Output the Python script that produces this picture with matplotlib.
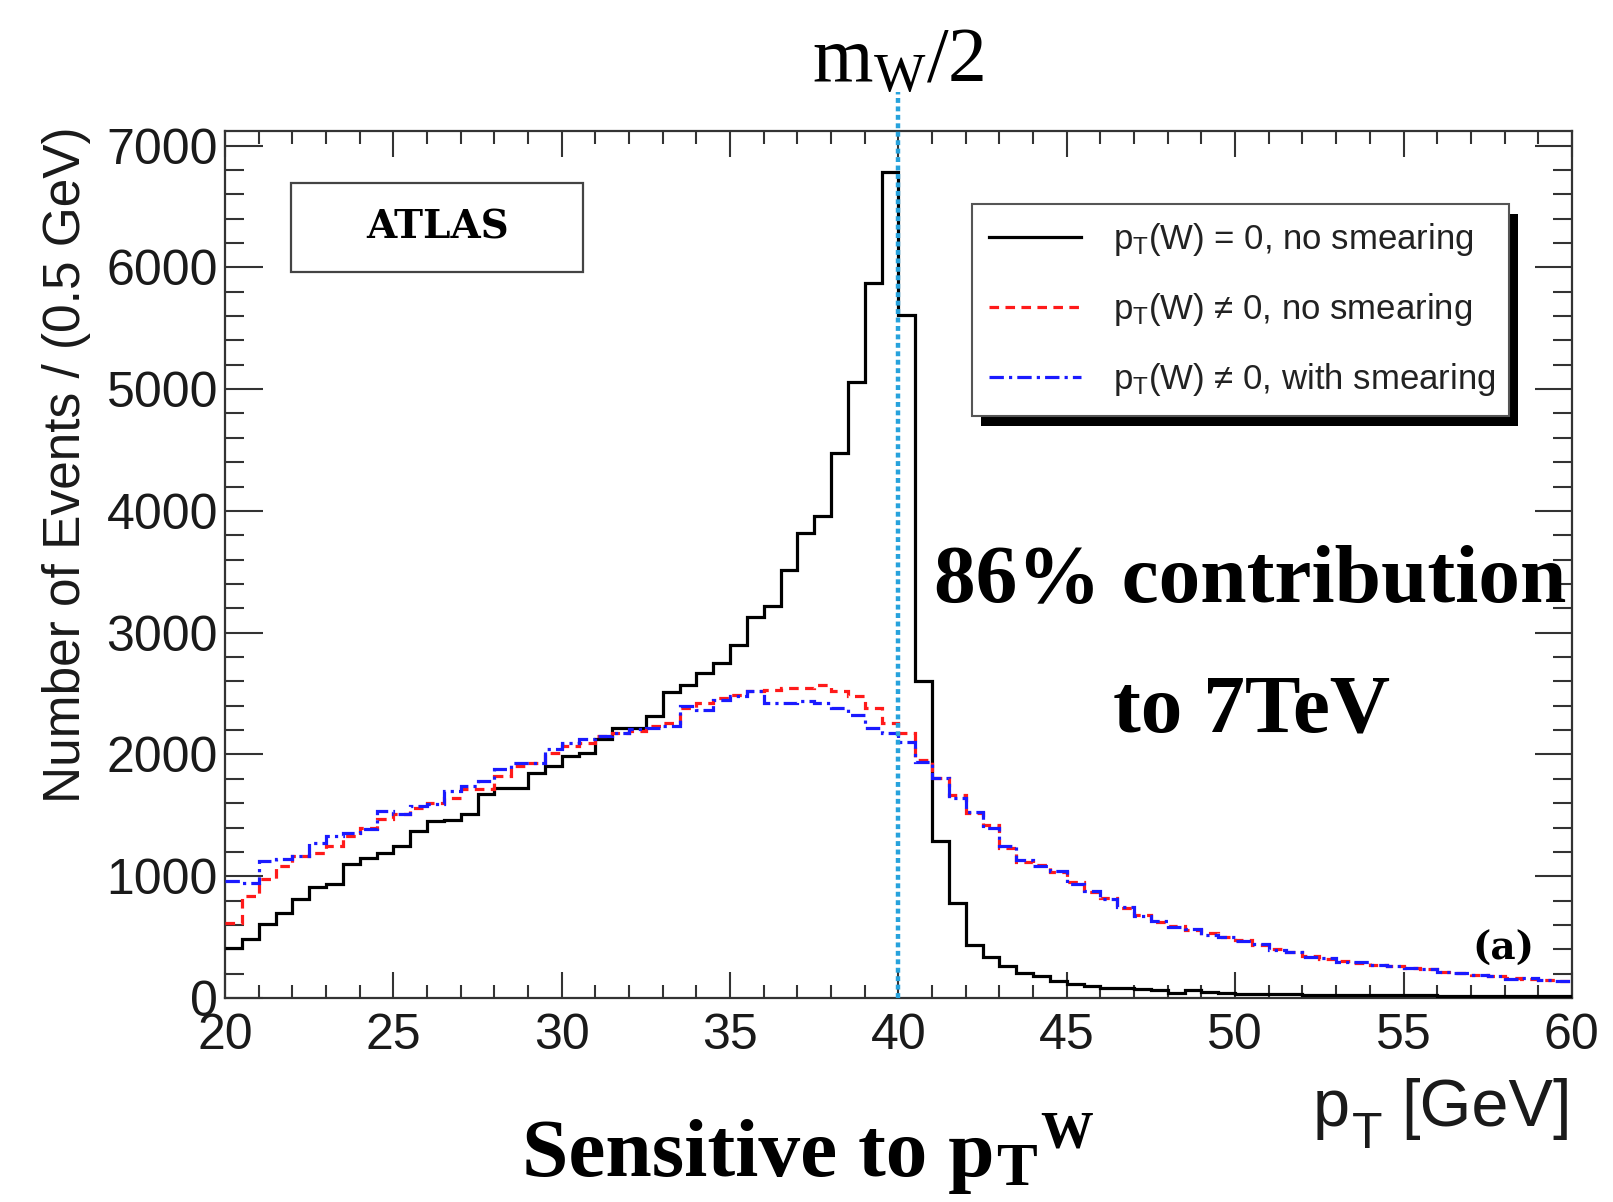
import numpy as np
import matplotlib
matplotlib.use("Agg")
import matplotlib.pyplot as plt
from matplotlib.lines import Line2D
from matplotlib.patches import Rectangle
from matplotlib.ticker import MultipleLocator

plt.rcParams['mathtext.fontset'] = 'custom'
plt.rcParams['mathtext.rm'] = 'Liberation Serif'
plt.rcParams['mathtext.bf'] = 'Liberation Serif:bold'
plt.rcParams['mathtext.sf'] = 'Liberation Sans'
plt.rcParams['mathtext.it'] = 'Liberation Serif:italic'
plt.rcParams['font.family'] = ['Liberation Sans', 'DejaVu Sans']

# binning: 0.5 GeV bins from 20 to 60 GeV
pt_lo, pt_hi, bin_w = 20.0, 60.0, 0.5

# pT(W) = 0, no smearing
h_nopt = [410, 484, 607, 702, 811, 913, 934, 1098, 1153, 1194,
          1249, 1372, 1454, 1460, 1508, 1672, 1727, 1727, 1850, 1904,
          1986, 2014, 2128, 2219, 2219, 2314, 2511, 2574, 2669, 2751,
          2896, 3128, 3221, 3516, 3817, 3954, 4478, 5060, 5870, 6780,
          5611, 2601, 1292, 779, 437, 333, 260, 205, 178, 137,
          115, 96, 82, 82, 76, 68, 41, 68, 46, 38,
          35, 33, 31, 30, 28, 27, 26, 25, 24, 23,
          22, 21, 20, 19, 18, 17, 16, 15, 14, 13]

# pT(W) != 0, no smearing
h_pt = [620, 839, 975, 1085, 1167, 1194, 1249, 1331, 1399, 1467,
        1508, 1563, 1604, 1645, 1713, 1713, 1822, 1904, 1932, 2014,
        2068, 2096, 2150, 2178, 2191, 2232, 2260, 2383, 2423, 2464,
        2492, 2519, 2533, 2546, 2546, 2574, 2519, 2478, 2383, 2260,
        2180, 1954, 1803, 1667, 1516, 1421, 1230, 1120, 1093, 1038,
        956, 874, 820, 738, 683, 628, 590, 560, 530, 500,
        478, 437, 400, 375, 345, 320, 300, 288, 275, 262,
        250, 235, 215, 205, 190, 180, 165, 160, 150, 140]

# pT(W) != 0, with smearing
h_pt_smear = [960, 948, 1126, 1139, 1167, 1276, 1331, 1358, 1385, 1536,
              1508, 1577, 1590, 1699, 1740, 1781, 1877, 1932, 1932, 2041,
              2096, 2123, 2150, 2178, 2205, 2219, 2232, 2396, 2369, 2451,
              2478, 2519, 2423, 2423, 2437, 2423, 2383, 2328, 2219, 2178,
              2100, 1940, 1810, 1640, 1530, 1400, 1245, 1130, 1080, 1045,
              940, 880, 810, 745, 670, 635, 580, 565, 520, 505,
              470, 445, 395, 380, 340, 325, 295, 292, 270, 265,
              245, 238, 210, 208, 185, 182, 160, 162, 145, 138]

labels = [r'p$_{\mathsf{T}}$(W) = 0, no smearing',
          r'p$_{\mathsf{T}}$(W) ≠ 0, no smearing',
          r'p$_{\mathsf{T}}$(W) ≠ 0, with smearing']

edges = np.arange(pt_lo, pt_hi + bin_w / 2, bin_w)
mw_half = 40.0

fig = plt.figure(figsize=(16.13, 12.02), dpi=100)
ax = fig.add_axes([0.1395, 0.1697, 0.835, 0.7213])

c_black, c_red, c_blue = 'black', '#ff1a1a', '#1a1aff'
ls_red = (0, (3.0, 2.0))
ls_blue = (0, (4.5, 1.6, 1.0, 1.6))
ax.stairs(h_nopt, edges, baseline=None, color=c_black, lw=2.3, zorder=3)
ax.stairs(h_pt, edges, baseline=None, color=c_red, lw=2.3,
          linestyle=ls_red, zorder=4)
ax.stairs(h_pt_smear, edges, baseline=None, color=c_blue, lw=2.3,
          linestyle=ls_blue, zorder=4)

ax.axvline(mw_half, ymin=0, ymax=1.045, color='#27a2dc', lw=3.2,
           linestyle=(0, (1.1, 0.8)), clip_on=False, zorder=5)

ax.set_xlim(pt_lo, pt_hi)
ax.set_ylim(0, 1.05 * max(h_nopt))
ax.xaxis.set_major_locator(MultipleLocator(5))
ax.xaxis.set_minor_locator(MultipleLocator(1))
ax.yaxis.set_major_locator(MultipleLocator(1000))
ax.yaxis.set_minor_locator(MultipleLocator(200))

for s in ax.spines.values():
    s.set_linewidth(1.6)
    s.set_color('#333333')
ax.tick_params(which='both', direction='in', top=True, right=True,
               color='#333333', width=1.5, labelcolor='#1a1a1a')
ax.tick_params(axis='x', which='major', length=19, pad=11, labelsize=36)
ax.tick_params(axis='x', which='minor', length=9.5)
ax.tick_params(axis='y', which='major', length=27, pad=5, labelsize=36)
ax.tick_params(axis='y', which='minor', length=14)

# axis titles (ROOT style placement)
fig.text(0.0415, 0.613, 'Number of Events / (0.5 GeV)', rotation=90,
         ha='center', va='center', size=37, color='#1a1a1a')
xl_y = 0.063
gev = fig.text(0.9746, xl_y, '[GeV]', ha='right', va='baseline', size=48,
               color='#1a1a1a')
sub_t = ax.annotate('T', xy=(0, xl_y), xycoords=(gev, 'figure fraction'),
                    xytext=(-14, -16), textcoords='offset points',
                    ha='right', va='baseline', size=36, color='#1a1a1a')
ax.annotate('p', xy=(0, xl_y), xycoords=(sub_t, 'figure fraction'),
            xytext=(-1, 0), textcoords='offset points', ha='right',
            va='baseline', size=48, color='#1a1a1a')

# legend with ROOT-like shadow
handles = [Line2D([], [], color=c_black, lw=2.3),
           Line2D([], [], color=c_red, lw=2.3, linestyle=ls_red),
           Line2D([], [], color=c_blue, lw=2.3, linestyle=ls_blue)]
leg = ax.legend(handles, labels, loc='upper left',
                bbox_to_anchor=(0.5546, 0.9158, 0.3987, 0.0), mode='expand',
                borderaxespad=0, fontsize=25, frameon=True, fancybox=False,
                framealpha=1, edgecolor='#555555', handlelength=2.65,
                handletextpad=0.9, labelspacing=0.95, borderpad=0.5)
leg.get_frame().set_linewidth(1.5)
for t in leg.get_texts():
    t.set_color('#222222')
leg.set_zorder(6)

# ATLAS box
ax.add_patch(Rectangle((0.049, 0.837), 0.217, 0.103, transform=ax.transAxes,
                       fill=False, edgecolor='#444444', lw=1.6, zorder=6))
ax.text(0.1575, 0.8885, 'ATLAS', transform=ax.transAxes, ha='center',
        va='center', family='DejaVu Serif', weight='bold', size=28,
        zorder=7)

ax.text(0.9495, 0.044, '(a)', transform=ax.transAxes, ha='center',
        va='baseline', family='DejaVu Serif', weight='bold', size=28,
        zorder=7)

# annotations
ax.text(mw_half, 1.057, r'm$_{\mathrm{W}}$/2', transform=ax.get_xaxis_transform(),
        ha='center', va='baseline', family='Liberation Serif', size=56)
ax.text(0.761, 0.457, '86% contribution', transform=ax.transAxes,
        ha='center', va='baseline', family='Liberation Serif',
        weight='bold', size=60, zorder=7)
ax.text(0.762, 0.307, 'to 7TeV', transform=ax.transAxes, ha='center',
        va='baseline', family='Liberation Serif', weight='bold', size=60,
        zorder=7)
sens_y = 0.022
sens = fig.text(0.3235, sens_y, 'Sensitive to p', ha='left', va='baseline',
                family='Liberation Serif', weight='bold', size=60)
sens_t = ax.annotate('T', xy=(1, sens_y), xycoords=(sens, 'figure fraction'),
                     xytext=(1, -7), textcoords='offset points', ha='left',
                     va='baseline', family='Liberation Serif', weight='bold',
                     size=44)
ax.annotate('W', xy=(1, sens_y), xycoords=(sens_t, 'figure fraction'),
            xytext=(3, 20), textcoords='offset points', ha='left',
            va='baseline', family='Liberation Serif', weight='bold', size=38)

# shadow behind legend frame
fig.canvas.draw()
bb = leg.get_frame().get_window_extent()
inv = ax.transAxes.inverted()
(x0, y0), (x1, y1) = inv.transform([(bb.x0 + 9, bb.y0 - 10), (bb.x1 + 9, bb.y1 - 10)])
ax.add_patch(Rectangle((x0, y0), x1 - x0, y1 - y0, transform=ax.transAxes,
                       facecolor='black', edgecolor='none', zorder=5.5,
                       clip_on=False))

fig.savefig('out.png', dpi=100)
